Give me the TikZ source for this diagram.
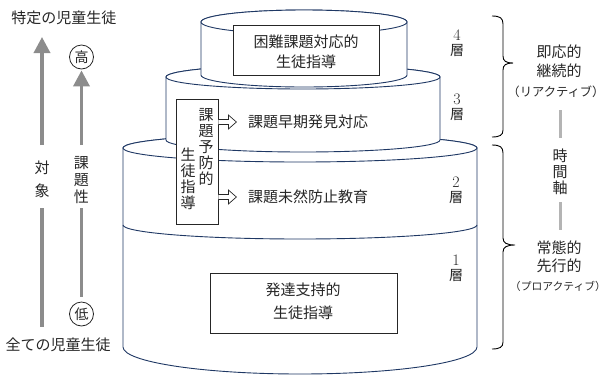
\documentclass[tikz,border=0pt]{standalone}
\usepackage{fontspec}
\newfontfamily\jp{Noto Sans CJK JP}
\usetikzlibrary{arrows.meta}
\definecolor{navy}{HTML}{1F3864}
\definecolor{txt}{HTML}{262626}
\definecolor{garrow}{HTML}{8C8C8C}
\definecolor{gbar}{HTML}{B4B4B4}
\tikzset{
  cyl/.style={draw=navy, line width=0.9pt, fill=white},
  jtxt/.style={font=\jp\fontsize{15}{16}\selectfont, text=txt, inner sep=0pt},
  jsmall/.style={font=\jp\fontsize{12.3}{13}\selectfont, text=txt, inner sep=0pt},
  jtiny/.style={font=\jp\fontsize{10.8}{12}\selectfont, text=txt, inner sep=0pt},
  dig/.style={font=\fontsize{16}{16}\selectfont, text=txt, inner sep=0pt},
  sou/.style={font=\jp\fontsize{14}{14}\selectfont, text=txt, inner sep=0pt},
  tbox/.style={draw=txt, line width=0.8pt, fill=white, inner sep=0pt},
  gline/.style={draw=garrow, line width=3.5pt},
  garr/.style={draw=garrow, line width=3.5pt, -{Triangle[width=16pt,length=16pt]}},
  gbarl/.style={draw=gbar, line width=3pt},
  blockarrow/.style={draw=txt, fill=white, line width=0.7pt, line join=miter},
  circ/.style={circle, draw=txt, line width=0.8pt, minimum size=24pt, inner sep=0pt, font=\jp\fontsize{14}{14}\selectfont, text=txt},
  brace/.style={draw=black, line width=0.9pt}
}
\begin{document}
\begin{tikzpicture}[x=1pt,y=-1pt]
\useasboundingbox (0,0) rectangle (606,376);
% bottom cylinder (layers 1-2)
\path[cyl] (123,148) -- (123,347) arc[start angle=180,end angle=0,x radius=177,y radius=27] -- (477,148) arc[start angle=0,end angle=-180,x radius=177,y radius=14] -- cycle;
\draw[cyl] (300,148) ellipse [x radius=177, y radius=14];
\draw[draw=navy, line width=0.9pt] (123,225) arc[start angle=180,end angle=0,x radius=177,y radius=14];
% layer 3
\path[cyl] (166,77) -- (166,140) arc[start angle=180,end angle=0,x radius=137,y radius=12] -- (440,77) arc[start angle=0,end angle=-180,x radius=137,y radius=12] -- cycle;
\draw[cyl] (303,77) ellipse [x radius=137, y radius=12];
% layer 4
\path[cyl] (201,22) -- (201,75) arc[start angle=180,end angle=0,x radius=103,y radius=12] -- (407,22) arc[start angle=0,end angle=-180,x radius=103,y radius=12] -- cycle;
\draw[cyl] (304,22) ellipse [x radius=103, y radius=12];

% layer 4 box
\node[tbox, minimum width=146pt, minimum height=50pt] (b4) at (306,50) {};
\node[jtxt] (b4a) at (306,42) {困難課題対応的};
\node[jtxt] (b4b) at (306,62) {生徒指導};

% vertical prevention box
\node[tbox, minimum width=42pt, minimum height=125pt] (vb) at (197,161.5) {};
\node[jtxt] (v1) at (206,115) {課};
\node[jtxt] (v2) at (206,131) {題};
\node[jtxt] (v3) at (206,147) {予};
\node[jtxt] (v4) at (206,163) {防};
\node[jtxt] (v5) at (206,179) {的};
\node[jtxt] (v6) at (188,155) {生};
\node[jtxt] (v7) at (188,171) {徒};
\node[jtxt] (v8) at (188,187) {指};
\node[jtxt] (v9) at (188,203) {導};

\node[jtxt, anchor=west] (t3) at (248,122) {課題早期発見対応};
\node[jtxt, anchor=west] (t2) at (248,197) {課題未然防止教育};
% hollow block arrows from the box to the texts
\foreach \y/\n in {122/t3, 197/t2}{
  \draw[blockarrow] (vb.east |- 0,\y) ++(0,-2.5) -- ++(10,0) -- ++(0,-4.5) -- ++(8,7) -- ++(-8,7) -- ++(0,-4.5) -- ++(-10,0);
}

% layer 1 box
\node[tbox, minimum width=187pt, minimum height=60pt] (b1) at (303.5,303) {};
\node[jtxt] (b1a) at (303,290) {発達支持的};
\node[jtxt] (b1b) at (303,313) {生徒指導};

% layer labels
\node[dig] (n4) at (457,35) {4};
\node[sou] (s4) at (457,51) {層};
\node[dig] (n3) at (457,99) {3};
\node[sou] (s3) at (457,115) {層};
\node[dig] (n2) at (456,182) {2};
\node[sou] (s2) at (456,198) {層};
\node[dig] (n1) at (456,260) {1};
\node[sou] (s1) at (456,276) {層};

% braces
\draw[brace] (492,16) .. controls (500,16) and (503,18) .. (503,24) -- (503,56) .. controls (503,61) and (506,63) .. (513,63) .. controls (506,63) and (503,65) .. (503,70) -- (503,130) .. controls (503,135) and (500,137) .. (492,137);
\draw[brace] (492,145) .. controls (500,145) and (503,147) .. (503,153) -- (503,238) .. controls (503,243) and (507,245) .. (515,245) .. controls (507,245) and (503,247) .. (503,252) -- (503,342) .. controls (503,347) and (500,349) .. (492,349);

% right texts
\node[jtxt] (r1) at (559,52) {即応的};
\node[jtxt] (r2) at (559,71) {継続的};
\node[jsmall] (r3) at (556,92) {（リアクティブ）};
\node[jtxt] (ax1) at (560,156) {時};
\node[jtxt] (ax2) at (560,172) {間};
\node[jtxt] (ax3) at (560,188) {軸};
\coordinate (g1) at (560,110);
\coordinate (g2) at (560,138);
\draw[gbarl] (g1) -- (g2);
\coordinate (g3) at (560,202);
\coordinate (g4) at (560,230);
\draw[gbarl] (g3) -- (g4);
\node[jtxt] (p1) at (559,248) {常態的};
\node[jtxt] (p2) at (559,266) {先行的};
\node[jtiny] (p3) at (558,286) {（プロアクティブ）};

% left side
\node[jtxt] (top) at (64,18) {特定の児童生徒};
\node[jtxt] (bot) at (58,345) {全ての児童生徒};
\node[circ] (hi) at (81.5,57) {高};
\node[circ] (lo) at (81.5,314) {低};
\node[jtxt] (o1) at (42,168) {対};
\node[jtxt] (o2) at (42,191) {象};
\node[jtxt] (k1) at (81.5,163) {課};
\node[jtxt] (k2) at (81.5,180) {題};
\node[jtxt] (k3) at (81.5,197) {性};
\coordinate (a1b) at (42,145);
\coordinate (a1t) at (42,37);
\draw[garr] (a1b) -- (a1t);
\coordinate (a2b) at (81.5,145);
\draw[garr] (a2b) -- ([yshift=-1pt]hi.south);
\coordinate (l1t) at (42,208);
\coordinate (l1b) at (42,327);
\draw[gline] (l1t) -- (l1b);
\coordinate (l2t) at (81.5,208);
\draw[gline] (l2t) -- ([yshift=5pt]lo.north);
\end{tikzpicture}
\end{document}
